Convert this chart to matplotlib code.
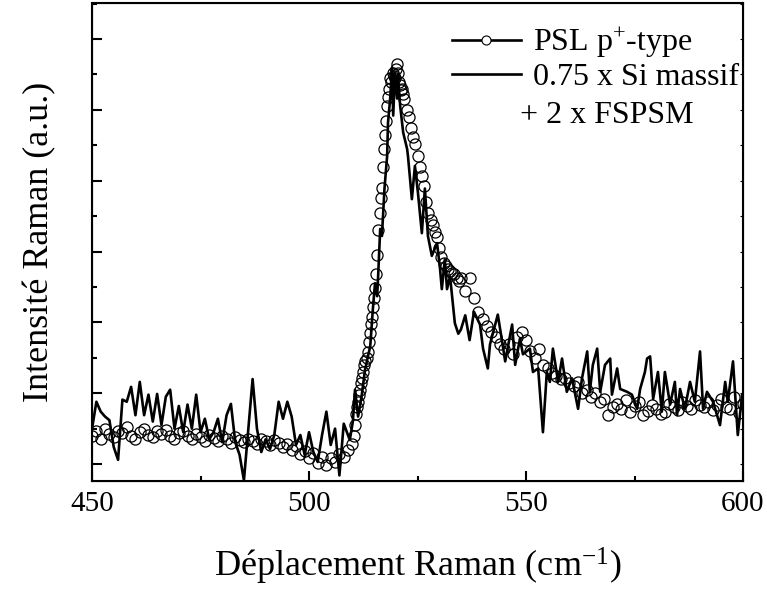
import matplotlib
matplotlib.use("Agg")
import matplotlib.pyplot as plt
from matplotlib.lines import Line2D
from matplotlib.ticker import MultipleLocator
import numpy as np

plt.rcParams['font.family'] = ['Liberation Serif', 'DejaVu Serif']
plt.rcParams['mathtext.fontset'] = 'custom'
plt.rcParams['mathtext.rm'] = 'Liberation Serif'
plt.rcParams['mathtext.it'] = 'Liberation Serif:italic'

# PSL p+-type (circles) (a.u.)
psl_x = (list(range(450, 510))
         + list(np.arange(510, 522, 0.25))
         + list(np.arange(522, 535, 0.5))
         + list(range(535, 601)))
psl_y = [40, 46, 35, 50, 42, 38, 47, 44, 52, 40,
         36, 45, 50, 41, 38, 46, 43, 48, 39, 35,
         44, 47, 40, 36, 42, 38, 33, 41, 37, 32,
         40, 36, 30, 38, 34, 31, 36, 33, 28, 35,
         32, 27, 34, 30, 24, 29, 20, 25, 14, 18,
         8, 15, 2, 10, -2, 8, 3, 14, 10, 20,
         # 510 .. 521.75 step 0.25
         28, 40, 55, 70, 80, 88, 97, 105, 115, 122,
         130, 140, 145, 150, 158, 172, 185, 198, 208, 222,
         235, 248, 268, 295, 330, 355, 375, 390, 420, 445,
         465, 485, 505, 518, 530, 545, 540, 552, 548, 545,
         558, 565, 552, 540, 535, 528, 530, 522,
         # 522 .. 534.5 step 0.5
         516, 500, 490, 474, 462, 452, 435, 420, 407, 392,
         370, 355, 345, 338, 328, 320, 305, 292, 284, 280,
         276, 272, 270, 268, 262, 258,
         # 535 .. 600
         262, 245, 262, 235, 215, 205, 195, 187, 180, 170,
         163, 170, 155, 180, 187, 175, 160, 150, 163, 140,
         135, 128, 125, 120, 122, 115, 110, 116, 100, 105,
         95, 100, 88, 92, 69, 80, 85, 78, 90, 74,
         82, 88, 69, 75, 84, 78, 70, 74, 85, 80,
         76, 88, 82, 78, 90, 84, 80, 88, 76, 84,
         92, 80, 78, 95, 72, 85]

# 0.75 x Si massif + 2 x FSPSM (solid line)
fit_x = list(range(450, 509)) + [
    509.4, 510.1, 510.6, 511.3, 512.1, 512.9, 513.5, 514.1, 514.7, 515.2,
    515.7, 515.9, 516.4, 516.8, 517.4, 518.0, 518.2, 518.7, 519.1, 519.4,
    519.8, 520.3, 520.5, 521.0, 521.7, 522.6, 522.8, 523.7, 524.4, 525.1,
    526.0, 526.7, 527.4, 528.3, 529.5, 530.2, 530.6, 531.3, 531.8, 532.5,
    533.2, 533.6, 534.4, 535.0, 536.0, 537.0, 538.0, 539.4, 540.1, 541.2,
    541.7, 543.5, 544.5, 545.2, 546.8, 547.5, 548.6, 549.3, 550.9, 551.6,
    552.8, 553.9, 554.8, 555.5, 556.2, 557.4, 558.3, 559.4, 560.6, 562.0,
    562.9, 564.1, 564.7, 565.4, 566.4, 567.1, 568.2, 569.4, 569.8, 571.0,
    571.7, 573.3, 574.4, 575.6, 576.3, 577.4, 577.9, 578.6, 579.3, 580.4,
    581.3, 582.0, 583.2, 584.3, 584.8, 585.5, 586.6, 587.8, 588.9, 590.1,
    590.8, 591.7, 593.1, 594.7, 595.9, 596.5, 597.7, 598.8, 599.8, 600.0]
fit_y = [50, 88, 74, 67, 62, 24, 6, 91, 88, 109,
         69, 116, 69, 98, 60, 99, 55, 95, 105, 50,
         82, 45, 84, 50, 98, 45, 64, 35, 45, 64,
         31, 69, 85, 31, 13, -23, 48, 120, 50, 17,
         35, 21, 41, 88, 64, 88, 67, 27, 41, 13,
         45, 17, 3, 41, 74, 27, 50, -16, 57,
         34, 60, 105, 67, 95, 133, 150, 166, 218, 255,
         237, 262, 332, 322, 390, 435, 482, 516, 559, 492,
         553, 516, 549, 506, 468, 445, 435, 374, 421, 383,
         326, 389, 322, 294, 312, 275, 247, 289, 247, 265,
         223, 199, 184, 190, 210, 175, 215, 197, 163, 135,
         169, 211, 173, 145, 197, 140, 177, 155, 163, 130,
         135, 45, 130, 116, 163, 116, 149, 102, 121, 78,
         121, 159, 102, 140, 163, 102, 140, 149, 98, 135,
         106, 102, 98, 78, 106, 130, 149, 152, 92, 130,
         74, 130, 84, 116, 69, 106, 78, 116, 88, 159,
         78, 102, 88, 55, 116, 88, 145, 41, 98, 90]

fig = plt.figure(figsize=(7.67, 5.91), dpi=100)
ax = fig.add_axes([0.12, 0.186, 0.8487, 0.809])

ax.plot(psl_x, psl_y, linestyle='none', marker='o', markersize=8,
        markerfacecolor='none', markeredgecolor='black', markeredgewidth=0.9,
        zorder=2)
ax.plot(fit_x, fit_y, color='black', linewidth=1.9, zorder=3)

ax.set_xlim(450, 600)
ax.set_ylim(-24, 651)
ax.xaxis.set_major_locator(MultipleLocator(50))
ax.xaxis.set_minor_locator(MultipleLocator(25))
ax.yaxis.set_major_locator(MultipleLocator(100))
ax.yaxis.set_minor_locator(MultipleLocator(50))
ax.tick_params(which='both', direction='in', width=1.5, top=False, right=False)
ax.tick_params(which='major', length=7)
ax.tick_params(which='minor', length=3.5)
ax.tick_params(axis='x', labelsize=21, pad=7)
ax.tick_params(axis='y', labelleft=False)
for s in ax.spines.values():
    s.set_linewidth(1.5)

# small inner ticks on the right side
ax2 = ax.twinx()
ax2.set_ylim(ax.get_ylim())
ax2.yaxis.set_major_locator(MultipleLocator(50))
ax2.tick_params(direction='in', length=2, width=0.8, labelright=False)

ax.set_xlabel('Déplacement Raman (cm$^{-1}$)', fontsize=26, labelpad=21)
ax.set_ylabel('Intensité Raman (a.u.)', fontsize=26, labelpad=26)

h1 = Line2D([], [], color='black', linewidth=1.9, marker='o', markersize=6.5,
            markerfacecolor='white', markeredgecolor='black', markeredgewidth=0.8)
h2 = Line2D([], [], color='black', linewidth=1.9)
ax.legend([h1, h2], ['PSL p$^{+}$-type', '0.75 x Si massif'], loc='upper left',
          bbox_to_anchor=(0.553, 0.952), frameon=False, fontsize=23,
          handlelength=2.15, handletextpad=0.4, borderpad=0, borderaxespad=0,
          labelspacing=0.08)
ax.text(0.657, 0.765, '+ 2 x FSPSM', transform=ax.transAxes, fontsize=23,
        ha='left', va='center')

fig.savefig('out.png', dpi=100)
